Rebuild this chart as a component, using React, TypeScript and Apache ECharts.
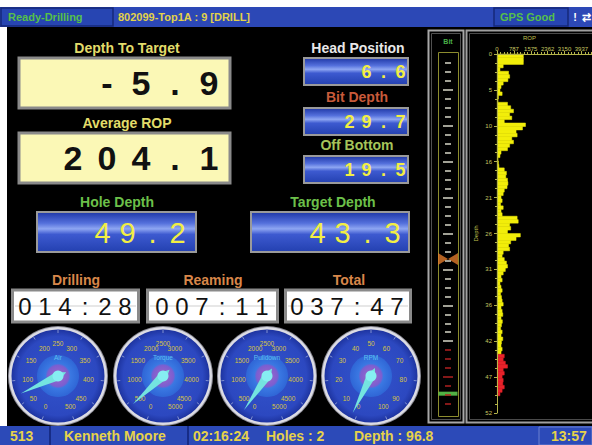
import React, { useEffect, useRef } from 'react';
import * as echarts from 'echarts';

// ---------- data ----------
const ropBinSize = 0.5; // m per bar
const ropValues = [
  1240, 1240, 1240, 300, 150, 550, 600, 520, 300, 200,
  150, 250, 80, 60, 500, 650, 780, 600, 700, 350,
  1340, 1200, 900, 950, 700, 780, 600, 500, 200, 150,
  60, 80, 100, 350, 450, 420, 500, 520, 480, 350,
  300, 200, 250, 180, 300, 200, 250, 950, 1000, 600,
  650, 500, 1100, 900, 650, 550, 600, 300, 250, 350,
  450, 500, 400, 300, 200, 250, 150, 200, 250, 180,
  220, 250, 300, 200, 250, 280, 200, 260, 220, 180,
  250, 200, 280, 220, 200, 250, 200, 350, 300, 400,
  500, 300, 350, 250, 300, 280, 350, 250, 150,
];
const depthMax = 52;
const depthTickStep = 5.2;
const ropTickStep = 787.4;
const ropMax = 4430;
const targetDepth = 43.3;
const bitDepth = 29.7;
const holeDepth = 49.2;
const bitTickStep = 1.3;

const gaugeNames = ['Air', 'Torque', 'Pulldown', 'RPM'];
const gaugeMax = [500, 5000, 5000, 100];
const gaugeValues = [70, 420, 220, 2];

const depthToTargetTxt = '-5.9';
const averageRopTxt = '204.1';
const headPositionTxt = '6.6';
const bitDepthTxt = '29.7';
const offBottomTxt = '19.5';
const holeDepthTxt = '49.2';
const targetDepthTxt = '43.3';
const timeLabels = ['Drilling', 'Reaming', 'Total'];
const timeValues = ['014:28', '007:11', '037:47'];

const FONT = '"Liberation Sans", Arial, sans-serif';

function txt(text: string, x: number, y: number, size: number, color: string, weight = 'bold', align = 'center') {
  return {
    type: 'text', z: 20,
    style: { text, x, y, fill: color, font: `${weight} ${size}px ${FONT}`, align, verticalAlign: 'middle' },
  };
}
function cellText(str: string, xRight: number, y: number, cellW: number, size: number, color: string, weight: string) {
  return {
    type: 'text', z: 20,
    style: {
      text: str.split('').map((c) => `{c|${c}}`).join(''),
      x: xRight, y, align: 'right', verticalAlign: 'middle',
      rich: { c: { width: cellW, align: 'center', fontSize: size, fontWeight: weight, fontFamily: FONT, fill: color } },
    },
  };
}
function rect(x: number, y: number, w: number, h: number, style: any, z = 1) {
  return { type: 'rect', z, shape: { x, y, width: w, height: h }, style };
}
const blueGrad = {
  type: 'linear', x: 0, y: 0, x2: 0, y2: 1,
  colorStops: [
    { offset: 0, color: '#1e36a6' }, { offset: 0.28, color: '#5470dc' }, { offset: 0.42, color: '#8ea6f2' },
    { offset: 0.56, color: '#3d5ad0' }, { offset: 1, color: '#2340b0' },
  ],
};
function blueBox(x: number, y: number, w: number, h: number) {
  return rect(x, y, w, h, { fill: blueGrad, stroke: '#9a9a9a', lineWidth: 2 }, 2);
}

export default function App() {
  const ref = useRef<HTMLDivElement>(null);
  useEffect(() => {
    document.body.style.margin = '0';
    const chart = echarts.init(ref.current!, undefined, { renderer: 'svg' });

    const nCats = Math.round(depthMax / ropBinSize);
    const cats = Array.from({ length: nCats }, (_, i) => (i * ropBinSize).toFixed(1));
    const barData = cats.map((c, i) => {
      const v = ropValues[i];
      if (v === undefined) return '-';
      const red = i * ropBinSize >= targetDepth - 0.05;
      const col = red ? '#e8222a' : '#f2ee0a';
      return { value: v, itemStyle: { color: col, borderColor: col, borderWidth: 0.5 } };
    });

    const ticks = Array.from({ length: 39 }, (_, i) => +((i + 1) * bitTickStep).toFixed(1));
    const isLong = (i: number) => (i + 1) % 4 === 0;
    const isRed = (d: number) => d >= targetDepth - 0.5;
    const lightLong = ticks.filter((d, i) => isLong(i) && !isRed(d));
    const lightShort = ticks.filter((d, i) => !isLong(i) && !isRed(d));
    const redLong = ticks.filter((d, i) => isLong(i) && isRed(d));
    const redShort = ticks.filter((d, i) => !isLong(i) && isRed(d));
    const bitAxis = (vals: number[], len: number, offset: number, color: string) => ({
      type: 'value', gridIndex: 1, min: 0, max: depthMax, inverse: true, position: 'left', offset, z: 10,
      axisLine: { show: false }, splitLine: { show: false },
      axisLabel: { show: false, customValues: vals },
      axisTick: { show: true, inside: true, length: len, customValues: vals, lineStyle: { color, width: 1.5 } },
    });

    const gcx = [58, 163, 267, 371];
    const gcy = 376;

    const graphics: any[] = [
      rect(7, 27, 585, 399, { fill: '#000' }, 0),
      // top bar
      rect(0, 7, 592, 20, { fill: '#2c48b6' }, 1),
      rect(1, 8, 112, 18, { fill: '#2745b2', stroke: '#16287a', lineWidth: 1.5 }, 2),
      rect(494, 8, 74, 18, { fill: '#2745b2', stroke: '#16287a', lineWidth: 1.5 }, 2),
      txt('Ready-Drilling', 8, 17, 11, '#56c04a', 'bold', 'left'),
      txt('802099-Top1A : 9 [DRILL]', 118, 17, 11, '#e2d24a', 'bold', 'left'),
      txt('GPS Good', 500, 17, 11, '#56c04a', 'bold', 'left'),
      txt('!', 575, 17, 11, '#ffffff'),
      txt('⇄', 586, 17, 11, '#ffffff'),
      // bottom bar
      rect(0, 426, 592, 19, { fill: '#2c4ab8' }, 1),
      { type: 'line', z: 2, shape: { x1: 50, y1: 426, x2: 50, y2: 445 }, style: { stroke: '#172c86', lineWidth: 2 } },
      { type: 'line', z: 2, shape: { x1: 188, y1: 426, x2: 188, y2: 445 }, style: { stroke: '#172c86', lineWidth: 2 } },
      rect(539, 427, 53, 18, { fill: '#2c4ab8', stroke: '#6a80d0', lineWidth: 1 }, 2),
      txt('513', 10, 436, 14, '#e6d24a', 'bold', 'left'),
      txt('Kenneth Moore', 64, 436, 14, '#e6d24a', 'bold', 'left'),
      txt('02:16:24', 193, 436, 14, '#e6d24a', 'bold', 'left'),
      txt('Holes : 2', 266, 436, 14, '#e6d24a', 'bold', 'left'),
      txt('Depth : 96.8', 354, 436, 14, '#e6d24a', 'bold', 'left'),
      txt('13:57', 551, 436, 14, '#e6d24a', 'bold', 'left'),
      // frames
      rect(466.5, 30.5, 130, 392, { fill: '#000', stroke: '#a0a0a0', lineWidth: 2 }, 1),
      rect(469.5, 33.5, 130, 386, { fill: 'none', stroke: '#4a4a4a', lineWidth: 1 }, 1),
      rect(428.5, 30.5, 35, 392, { fill: '#000', stroke: '#a8a8a8', lineWidth: 2 }, 1),
      rect(431.5, 33.5, 29, 386, { fill: 'none', stroke: '#505050', lineWidth: 1 }, 1),
      rect(438.5, 52.5, 20, 364, { fill: 'none', stroke: '#8c8c2e', lineWidth: 1 }, 2),
      txt('Bit', 448, 41, 7, '#48b048'),
      // left readouts
      txt('Depth To Target', 127, 48, 14, '#e2dc6a'),
      rect(19, 58, 211, 50, { fill: '#fbf8b6', stroke: '#8a8a8a', lineWidth: 3 }, 2),
      cellText(depthToTargetTxt, 226, 83, 34, 34, '#111', 'bold'),
      txt('Average ROP', 127, 123, 14, '#e2dc6a'),
      rect(19, 133, 211, 50, { fill: '#fbf8b6', stroke: '#8a8a8a', lineWidth: 3 }, 2),
      cellText(averageRopTxt, 226, 158, 34, 34, '#111', 'bold'),
      txt('Head Position', 358, 48, 14, '#e8e8e8'),
      blueBox(304, 58, 104, 27),
      cellText(headPositionTxt, 409, 71.5, 17, 18, '#f2ee44', 'bold'),
      txt('Bit Depth', 357, 97, 14, '#c85a3a'),
      blueBox(304, 108, 104, 27),
      cellText(bitDepthTxt, 409, 121.5, 17, 18, '#f2ee44', 'bold'),
      txt('Off Bottom', 357, 145, 14, '#a6c45a'),
      blueBox(304, 156, 104, 27),
      cellText(offBottomTxt, 409, 169.5, 17, 18, '#f2ee44', 'bold'),
      txt('Hole Depth', 117, 202, 14, '#6cc04a'),
      blueBox(37, 212, 159, 40),
      cellText(holeDepthTxt, 190, 232.5, 25, 29, '#f2ee44', 'normal'),
      txt('Target Depth', 333, 202, 14, '#6cc04a'),
      blueBox(251, 212, 158, 40),
      cellText(targetDepthTxt, 405, 232.5, 25, 29, '#f2ee44', 'normal'),
    ];
    const timeBoxX = [12, 147, 285];
    const timeBoxW = [126, 130, 125];
    const timeRight = [135, 272, 407];
    const timeLabelX = [76, 213, 349];
    timeLabels.forEach((l, i) => {
      graphics.push(txt(l, timeLabelX[i], 280, 14, '#d8874a'));
      graphics.push(rect(timeBoxX[i] + 0.5, 290, timeBoxW[i], 32, { fill: '#fff', stroke: '#8a8a8a', lineWidth: 3 }, 2));
      graphics.push({ type: 'line', z: 3, shape: { x1: timeBoxX[i] + 3, y1: 306, x2: timeBoxX[i] + timeBoxW[i] - 2, y2: 306 }, style: { stroke: '#cfcfcf', lineWidth: 1 } });
      graphics.push(cellText(timeValues[i], timeRight[i], 306, 20, 24, '#111', 'normal'));
    });
    gcx.forEach((cx) => {
      graphics.push({ type: 'circle', z: 1, shape: { cx, cy: gcy, r: 50 }, style: { fill: '#8c8c96' } });
      graphics.push({ type: 'circle', z: 1, shape: { cx, cy: gcy, r: 49 }, style: { fill: '#dcdce4' } });
      graphics.push({
        type: 'circle', z: 1, shape: { cx, cy: gcy, r: 46.5 },
        style: { fill: { type: 'radial', x: 0.5, y: 0.5, r: 0.5, colorStops: [{ offset: 0, color: '#3254cc' }, { offset: 0.85, color: '#2c48c0' }, { offset: 1, color: '#1e34a0' }] } },
      });
      graphics.push({
        type: 'circle', z: 1, shape: { cx, cy: gcy, r: 21 },
        style: { fill: { type: 'radial', x: 0.5, y: 0.5, r: 0.5, colorStops: [{ offset: 0, color: '#a068c8' }, { offset: 0.5, color: '#7c5ed0' }, { offset: 0.6, color: '#3a78e2' }, { offset: 1, color: '#2f66d6' }] } },
      });
    });

    const gaugeSeries = gaugeNames.map((name, i) => ({
      type: 'gauge', z: 5,
      center: [gcx[i], gcy], radius: 46,
      startAngle: 250, endAngle: -70, min: 0, max: gaugeMax[i], splitNumber: 10,
      axisLine: { show: false, lineStyle: { width: 0 } },
      splitLine: { show: true, length: 3, distance: 0, lineStyle: { color: '#8090d0', width: 1 } },
      axisTick: { show: false },
      axisLabel: { color: '#d8c444', fontSize: 6.5, distance: 7, fontFamily: FONT },
      pointer: { width: 4.5, length: 41, itemStyle: { color: '#74e4e0' } },
      anchor: { show: true, size: 11, showAbove: true, itemStyle: { color: '#86eef2' } },
      title: { offsetCenter: [0, -19], color: '#5cc0f0', fontSize: 6.5, fontFamily: FONT },
      detail: { show: false },
      data: [{ value: gaugeValues[i], name }],
    }));

    const axisCol = '#b4b44a';
    chart.setOption({
      animation: false,
      backgroundColor: '#ffffff',
      textStyle: { fontFamily: FONT },
      graphic: { elements: graphics },
      grid: [
        { left: 497, top: 54, width: 95, height: 359 },
        { left: 443, top: 54, width: 10, height: 359 },
      ],
      xAxis: [
        {
          type: 'value', gridIndex: 0, position: 'top', min: 0, max: ropMax, interval: ropTickStep, z: 10,
          axisLine: { show: true, lineStyle: { color: axisCol } },
          axisTick: { show: true, length: 3, lineStyle: { color: axisCol } },
          minorTick: { show: true, splitNumber: 5, length: 2, lineStyle: { color: axisCol } },
          axisLabel: { color: '#c8c860', fontSize: 6, margin: 2, showMaxLabel: false, formatter: (v: number) => String(Math.round(v)) },
          splitLine: { show: false },
          name: 'ROP', nameLocation: 'middle', nameGap: 11,
          nameTextStyle: { color: '#c0c050', fontSize: 6, padding: [0, 30, 0, 0] },
        },
        { type: 'value', gridIndex: 1, min: 0, max: 1, show: false },
      ],
      yAxis: [
        { type: 'category', gridIndex: 0, data: cats, inverse: true, show: false, boundaryGap: true },
        {
          type: 'value', gridIndex: 0, min: 0, max: depthMax, interval: depthTickStep, inverse: true, position: 'left', z: 10,
          axisLine: { show: true, lineStyle: { color: axisCol } },
          axisTick: { show: true, length: 3, lineStyle: { color: axisCol } },
          minorTick: { show: true, splitNumber: 4, length: 2, lineStyle: { color: axisCol } },
          axisLabel: { color: '#c8c860', fontSize: 6, margin: 5, formatter: (v: number) => String(Math.round(v)) },
          splitLine: { show: false },
          name: 'Depth', nameLocation: 'middle', nameGap: 18, nameRotate: 90,
          nameTextStyle: { color: '#c0c050', fontSize: 6 },
        },
        bitAxis(lightLong, 10, 0, '#d8d8c8'),
        bitAxis(lightShort, 6, -2, '#d8d8c8'),
        bitAxis(redLong, 10, 0, '#b02020'),
        bitAxis(redShort, 6, -2, '#b02020'),
      ],
      series: [
        {
          type: 'bar', xAxisIndex: 0, yAxisIndex: 0, data: barData,
          barWidth: 4, z: 3,
        },
        {
          type: 'scatter', xAxisIndex: 1, yAxisIndex: 2, z: 6,
          data: [[0.5, bitDepth]],
          symbol: 'path://M0,0L10,6L0,12ZM20,0L10,6L20,12Z', symbolSize: [20, 12], symbolKeepAspect: false,
          itemStyle: { color: '#e07a2a' },
        },
        {
          type: 'scatter', xAxisIndex: 1, yAxisIndex: 2, z: 6,
          data: [[0.5, holeDepth]],
          symbol: 'rect', symbolSize: [19, 4],
          itemStyle: { color: '#66dd55' },
        },
        ...gaugeSeries,
      ],
    });
    return () => chart.dispose();
  }, []);
  return <div ref={ref} style={{ width: 592, height: 445 }} />;
}
